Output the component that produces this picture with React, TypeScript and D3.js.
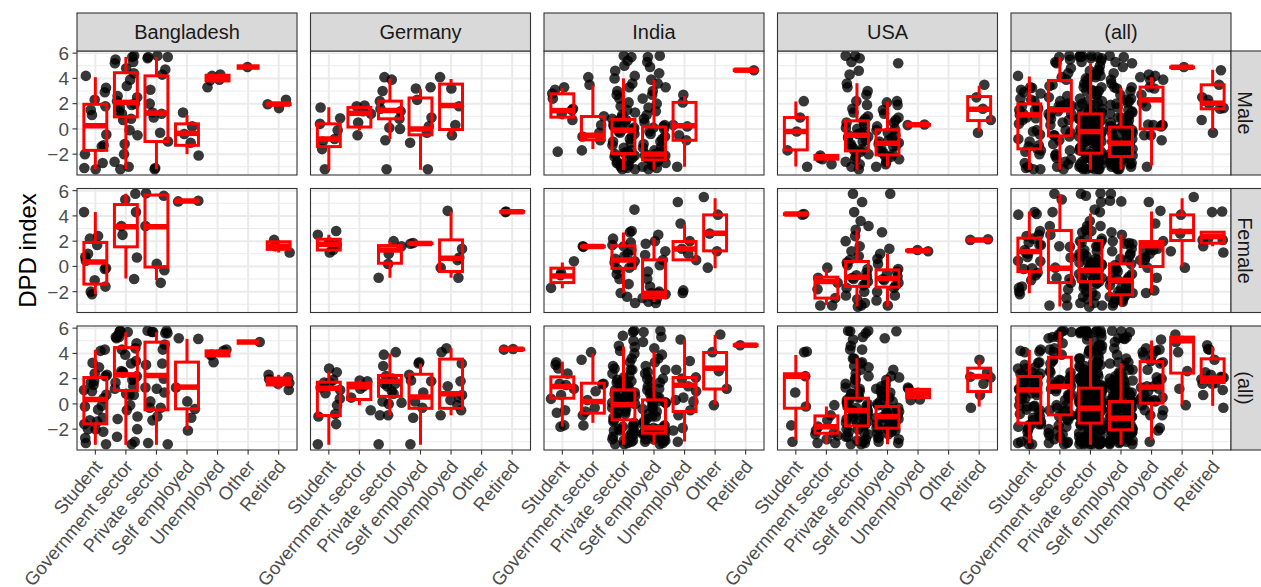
import React from 'react';
import * as d3 from 'd3';

// facet layout labels
const JOBS = ['Student', 'Government sector', 'Private sector', 'Self employed', 'Unemployed', 'Other', 'Retired'];
const COLS = ['Bangladesh', 'Germany', 'India', 'USA', '(all)'];
const ROWS = ['Male', 'Female', '(all)'];
const Y_TICKS = [-2, 0, 2, 4, 6];
const Y_MINOR = [-3, -1, 1, 3, 5];

// DPD index values per job (order of JOBS)
const bangladeshMale = [
  [4.2, 3.25, 2.9, 2.3, 1.8, 1.5, 1.1, -0.45, -1.3, -1.4, -2.0, -2.7, -3.1, -3.2],
  [5.8, 5.7, 5.5, 5.3, 5.2, 4.8, 4.4, 3.9, 3.4, 2.6, 2.5, 2.2, 2.0, 1.9, 1.7, 1.4, 1.2, 0.8, 0.7, -0.1, -0.5, -1.2, -2.0, -2.6, -3.0, -3.2],
  [5.8, 5.7, 5.7, 5.6, 4.7, 4.3, 3.1, 2.0, 1.3, 1.2, 0.9, -0.3, -1.0, -3.1, -3.2],
  [1.3, 0.2, -0.4, -1.1, -2.1],
  [4.3, 4.2, 3.9, 3.85, 3.3],
  [4.9],
  [2.3, 1.95, 1.65],
];
const bangladeshFemale = [
  [4.3, 2.4, 2.2, 1.7, 1.0, 0.75, 0.45, -0.15, -0.2, -1.1, -1.6, -2.0, -2.2],
  [5.75, 5.3, 4.3, 3.2, 2.5, 0.7, -1.0],
  [5.8, 5.6, 3.2, 0.2, -0.3, -1.3],
  [5.2, 5.15],
  [],
  [],
  [2.1, 1.6, 1.1],
];
const germanyMale = [
  [1.7, 0.85, 0.4, -0.1, -0.8, -1.0, -1.6, -3.2],
  [1.85, 1.8, 1.4, 1.2, 0.5, -0.5],
  [4.1, 3.9, 3.0, 2.2, 1.6, 1.4, 0.8, 0.1, 0.0, -0.9, -3.2],
  [3.3, 3.2, 2.3, 0.9, 0.2, -0.3, -1.1, -3.2],
  [4.1, 3.2, 1.8, 0.3, -0.5],
  [],
  [],
];
const germanyFemale = [
  [2.8, 2.5, 1.9, 1.7, 1.3, 1.1],
  [],
  [2.0, 1.6, 1.0, 0.2, -0.9],
  [1.85, 1.8],
  [4.4, 1.4, 0.7, 0.5, -0.1, -0.9],
  [],
  [4.35, 4.3],
];
const indiaMale = [
  [3.3, 3.1, 2.8, 2.4, 1.6, 1.5, 1.2, 0.7, -1.8],
  [4.1, 3.5, 1.0, 0.3, -0.3, -0.6, -0.9, -1.7],
  [5.8, 5.7, 5.4, 5.0, 4.6, 4.2, 4.0, 3.6, 3.3, 3.0, 2.7, 2.4, 2.1, 1.8, 1.5, 1.3, 1.1, 0.9, 0.8, 0.7, 0.6, 0.5, 0.4, 0.3, 0.2, 0.1, 0.0, 0.0, -0.1, -0.2, -0.3, -0.4, -0.6, -0.8, -1.0, -1.1, -1.3, -1.5, -1.7, -1.8, -1.9, -2.0, -2.1, -2.2, -2.3, -2.5, -2.6, -2.7, -2.8, -2.9, -3.0, -3.1, -3.2, -3.2],
  [5.8, 5.7, 5.3, 4.9, 4.4, 3.9, 3.6, 3.3, 3.0, 2.7, 2.4, 2.0, 1.7, 1.4, 1.1, 0.8, 0.5, 0.3, 0.2, 0.1, 0.0, -0.2, -0.4, -0.6, -0.8, -1.0, -1.2, -1.4, -1.5, -1.7, -1.8, -1.9, -2.0, -2.0, -2.1, -2.1, -2.2, -2.2, -2.3, -2.3, -2.4, -2.4, -2.5, -2.6, -2.7, -2.8, -2.9, -3.0, -3.1, -3.2],
  [2.7, 2.1, 0.3, 0.2, -0.5, -0.9, -3.0],
  [],
  [4.65],
];
const indiaFemale = [
  [0.4, -0.5, -0.7, -1.7],
  [1.6, 1.55],
  [4.5, 2.8, 2.7, 2.2, 1.9, 1.7, 1.6, 1.3, 1.0, 0.8, 0.6, 0.4, 0.3, 0.1, -0.1, -0.2, -0.6, -1.0, -1.4, -2.1, -2.4, -2.9],
  [2.5, 2.0, 1.8, 1.2, 0.9, 0.5, 0.1, -0.4, -1.0, -1.6, -2.0, -2.1, -2.1, -2.2, -2.3, -2.4, -2.5, -2.6, -2.8, -2.9],
  [5.1, 3.4, 2.0, 1.4, 1.0, 0.5, -1.9, -2.1],
  [5.5, 4.1, 2.6, 1.2, -0.1],
  [],
];
const usaMale = [
  [2.2, 0.9, -0.2, -1.7, -3.0],
  [-2.1, -2.3, -2.4, -2.8],
  [5.8, 5.8, 5.6, 5.3, 4.6, 4.3, 3.6, 3.3, 3.0, 2.7, 2.2, 1.9, 1.6, 1.3, 1.0, 0.8, 0.6, 0.5, 0.3, 0.1, 0.0, -0.2, -0.3, -0.4, -0.5, -0.6, -0.7, -0.9, -1.0, -1.2, -1.3, -1.5, -1.6, -1.7, -1.8, -2.0, -2.2, -2.4, -2.6, -2.8, -3.0, -3.2],
  [5.2, 2.2, 2.1, 1.9, 1.5, 1.2, 0.9, 0.7, 0.5, 0.2, 0.0, -0.1, -0.3, -0.5, -0.7, -0.9, -1.0, -1.1, -1.2, -1.3, -1.4, -1.6, -1.8, -1.9, -2.0, -2.1, -2.2, -2.4, -2.6, -2.8, -3.0],
  [0.35, 0.3],
  [],
  [3.5, 2.5, 1.6, 0.7, -0.3],
];
const usaFemale = [
  [4.15, 4.1],
  [-0.1, -0.9, -1.3, -1.8, -2.5, -3.1, -3.1],
  [5.75, 5.1, 4.3, 3.6, 3.2, 2.9, 2.4, 2.0, 1.6, 1.2, 0.8, 0.5, 0.3, 0.1, -0.2, -0.5, -0.7, -0.8, -0.9, -1.0, -1.2, -1.4, -1.5, -1.7, -2.0, -2.3, -2.6, -2.9, -3.1, -3.2],
  [5.75, 2.7, 1.4, 1.0, 0.6, 0.2, -0.2, -0.4, -0.6, -0.8, -1.0, -1.1, -1.3, -1.5, -1.7, -2.0, -2.3, -2.7, -3.1],
  [1.3, 1.2],
  [],
  [2.1, 2.15],
];

// boxplot stats per job: [lower whisker, q1, median, q3, upper whisker]
const boxBangladeshMale = [
  [-3.2, -1.7, 0.25, 1.95, 4.1], [-3.2, 0.95, 2.1, 4.45, 5.7], [-3.2, -1.0, 1.25, 4.2, 5.7],
  [-2.0, -1.3, -0.35, 0.4, 1.1], [3.75, 3.8, 4.0, 4.25, 4.3], [4.9, 4.9, 4.9, 4.9, 4.9], [1.95, 1.92, 1.97, 2.0, 2.0],
];
const boxBangladeshFemale = [
  [-2.2, -1.4, 0.35, 1.9, 4.3], [-0.95, 1.55, 3.15, 4.9, 5.75], [-1.1, -0.05, 3.15, 5.65, 5.75],
  [5.15, 5.15, 5.18, 5.2, 5.2], null, null, [1.1, 1.35, 1.6, 1.95, 2.1],
];
const boxBangladeshAll = [
  [-3.24, -1.58, 0.35, 2.09, 4.28], [-3.24, 1.06, 2.3, 4.46, 5.68], [-3.24, -0.47, 2.25, 4.89, 5.68],
  [-2.0, -0.39, 1.33, 3.31, 5.15], [3.75, 3.8, 4.0, 4.2, 4.3], [4.9, 4.9, 4.9, 4.9, 4.9], [1.15, 1.5, 1.8, 2.05, 2.3],
];
const boxGermanyMale = [
  [-3.24, -1.4, -0.8, 0.4, 1.72], [-0.1, 0.15, 1.25, 1.7, 1.85], [-0.8, 0.8, 1.45, 2.2, 4.0],
  [-3.24, -0.47, 0.0, 2.45, 3.15], [-0.6, -0.05, 1.85, 3.55, 3.95], null, null,
];
const boxGermanyFemale = [
  [1.1, 1.3, 1.75, 2.15, 2.5], null, [-0.9, 0.25, 1.3, 1.65, 2.0],
  [1.8, 1.8, 1.82, 1.85, 1.85], [-0.9, -0.4, 0.65, 2.1, 4.35], null, [4.3, 4.3, 4.32, 4.35, 4.35],
];
const boxGermanyAll = [
  [-3.24, -0.92, 1.25, 1.72, 2.56], [-0.1, 0.35, 1.35, 1.65, 1.85], [-0.9, 0.6, 1.8, 2.25, 4.0],
  [-3.24, -0.35, 0.55, 2.35, 3.2], [-0.9, -0.35, 0.8, 3.55, 4.4], null, [4.3, 4.3, 4.32, 4.35, 4.35],
];
const boxIndiaMale = [
  [0.75, 0.93, 1.45, 2.78, 3.23], [-1.6, -0.86, -0.5, 0.98, 3.45], [-3.24, -1.95, -0.1, 0.75, 4.0],
  [-3.24, -2.45, -2.0, 0.15, 3.9], [-3.0, -0.9, 0.25, 2.1, 2.6], null, [4.65, 4.62, 4.65, 4.68, 4.68],
];
const boxIndiaFemale = [
  [-1.72, -1.28, -0.75, -0.14, 0.3], [1.55, 1.55, 1.57, 1.6, 1.6], [-2.1, -0.15, 0.5, 1.63, 2.68],
  [-2.82, -2.47, -2.12, 0.52, 2.24], [0.5, 0.52, 1.37, 1.97, 3.29], [-0.14, 1.23, 2.63, 4.08, 5.4], null,
];
const boxIndiaAll = [
  [-1.79, 0.45, 1.38, 2.14, 3.35], [-1.5, -0.73, 0.19, 1.64, 4.0], [-3.24, -1.26, -0.05, 1.11, 4.54],
  [-3.24, -2.32, -1.9, 0.32, 4.15], [-2.98, -0.6, 1.48, 2.09, 5.07], [-0.07, 1.18, 2.83, 4.07, 5.47], [4.65, 4.62, 4.65, 4.68, 4.68],
];
const boxUsaMale = [
  [-2.98, -1.66, -0.21, 0.9, 2.17], [-2.45, -2.4, -2.25, -2.1, -2.06], [-3.24, -1.74, -0.5, 0.64, 3.62],
  [-2.98, -2.06, -1.14, -0.08, 2.17], [0.3, 0.3, 0.32, 0.35, 0.35], null, [-0.2, 0.66, 1.56, 2.56, 3.41],
];
const boxUsaFemale = [
  [4.1, 4.12, 4.15, 4.17, 4.2], [-3.05, -2.51, -1.2, -0.85, -0.2], [-3.18, -1.58, -0.85, 0.39, 2.9],
  [-3.18, -1.64, -0.95, -0.27, 1.0], [1.2, 1.22, 1.25, 1.28, 1.3], null, [2.05, 2.07, 2.1, 2.12, 2.15],
];
const boxUsaAll = [
  [-2.85, -0.34, 2.2, 2.39, 3.88], [-3.2, -2.32, -1.8, -0.95, -0.2], [-3.24, -1.74, -0.53, 0.45, 3.62],
  [-3.2, -1.92, -1.0, -0.21, 2.17], [0.3, 0.5, 0.85, 1.15, 1.3], null, [-0.2, 0.98, 2.17, 2.83, 3.49],
];
const boxAllMale = [
  [-3.24, -1.58, 1.11, 1.98, 4.15], [-3.24, -0.55, 1.51, 3.83, 5.68], [-3.24, -1.92, -0.21, 1.19, 5.2],
  [-3.24, -2.19, -1.13, 0.14, 3.23], [-2.9, 0.0, 2.3, 3.31, 4.1], [4.86, 4.86, 4.88, 4.9, 4.9], [-0.08, 1.59, 2.04, 3.49, 4.68],
];
const boxAllFemale = [
  [-2.12, -0.41, 1.18, 2.24, 4.35], [-3.18, -1.28, -0.14, 2.84, 5.72], [-3.18, -1.2, -0.3, 2.05, 4.2],
  [-3.18, -2.25, -1.1, 0.2, 2.5], [-2.12, -0.01, 1.63, 1.97, 4.35], [-0.01, 2.05, 2.76, 4.08, 5.4], [1.6, 1.84, 2.36, 2.71, 2.75],
];
const boxAllAll = [
  [-3.1, -1.52, 1.11, 2.17, 4.28], [-3.1, -0.87, 1.38, 3.7, 5.73], [-3.24, -1.52, -0.34, 1.25, 5.2],
  [-3.24, -2.05, -1.13, 0.19, 3.23], [-2.85, 0.06, 1.33, 3.35, 5.02], [-0.07, 2.44, 5.0, 5.29, 5.4], [-0.15, 1.69, 2.04, 3.57, 4.54],
];

// horizontal jitter, in category widths
const JITTER = [-0.31, 0.14, -0.06, 0.27, -0.22, 0.35, 0.03, -0.37, 0.21, -0.13, 0.31, -0.27, 0.09, -0.34, 0.17, -0.02, 0.37,
  -0.18, 0.24, -0.09, 0.33, -0.29, 0.06, -0.36, 0.12, -0.15, 0.29, -0.24, 0.01, 0.38, -0.11, 0.19, -0.33, 0.26, -0.04, 0.36, -0.2];

const BASE = [
  [bangladeshMale, germanyMale, indiaMale, usaMale],
  [bangladeshFemale, germanyFemale, indiaFemale, usaFemale],
];
const BOXES = [
  [boxBangladeshMale, boxGermanyMale, boxIndiaMale, boxUsaMale, boxAllMale],
  [boxBangladeshFemale, boxGermanyFemale, boxIndiaFemale, boxUsaFemale, boxAllFemale],
  [boxBangladeshAll, boxGermanyAll, boxIndiaAll, boxUsaAll, boxAllAll],
];

// margins: (all) row / column pool the underlying panels
function panelPoints(r: number, c: number): number[][] {
  const rs = r === 2 ? [0, 1] : [r];
  const cs = c === 4 ? [0, 1, 2, 3] : [c];
  return JOBS.map((_, j) => rs.flatMap(ri => cs.flatMap(ci => BASE[ri][ci][j])));
}

const W = 1261, H = 587;
const PW = 220, PH = 124;
const colX = d3.range(5).map(i => 77 + i * 233.5);
const rowY = d3.range(3).map(i => 51 + i * 137.5);
const FONT = '"Liberation Sans", Arial, Helvetica, sans-serif';
const RED = '#FF0000';

const fmt = (v: number) => String(v).replace('-', '\u2212');

export default function App() {
  const x = d3.scalePoint<string>().domain(JOBS).range([0, PW]).padding(0.6);
  const y = d3.scaleLinear().domain([-3.65, 6.17]).range([PH, 0]);
  const step = x.step();
  const bw = step * 0.75;

  const panels = [];
  for (let r = 0; r < 3; r++) {
    for (let c = 0; c < 5; c++) {
      const pts = panelPoints(r, c);
      const boxes = BOXES[r][c];
      const id = `clip-${r}-${c}`;
      panels.push(
        <g key={id} transform={`translate(${colX[c]},${rowY[r]})`}>
          <clipPath id={id}><rect width={PW} height={PH} /></clipPath>
          <rect width={PW} height={PH} fill="#fff" />
          {Y_MINOR.map(v => <line key={'m' + v} x1={0} x2={PW} y1={y(v)} y2={y(v)} stroke="#EBEBEB" strokeWidth={1.1} />)}
          {Y_TICKS.map(v => <line key={'M' + v} x1={0} x2={PW} y1={y(v)} y2={y(v)} stroke="#EBEBEB" strokeWidth={2} />)}
          {JOBS.map(j => <line key={'v' + j} x1={x(j)} x2={x(j)} y1={0} y2={PH} stroke="#EBEBEB" strokeWidth={2} />)}
          <g clipPath={`url(#${id})`}>
            {JOBS.map((j, ji) => pts[ji].map((v, i) => (
              <circle key={j + i} cx={(x(j) as number) + JITTER[(i * 5 + ji * 3 + r * 7 + c * 11) % JITTER.length] * step}
                cy={y(v)} r={5.3} fill="#000" fillOpacity={0.78} />
            )))}
            {JOBS.map((j, ji) => {
              const b = boxes[ji];
              if (!b) return null;
              const cx = x(j) as number;
              const [lo, q1, md, q3, hi] = b;
              return (
                <g key={'b' + j} stroke={RED} fill="none">
                  <line x1={cx} x2={cx} y1={y(q3)} y2={y(hi)} strokeWidth={3} />
                  <line x1={cx} x2={cx} y1={y(q1)} y2={y(lo)} strokeWidth={3} />
                  <rect x={cx - bw / 2} y={y(q3)} width={bw} height={Math.max(0, y(q1) - y(q3))} strokeWidth={3} />
                  <line x1={cx - bw / 2} x2={cx + bw / 2} y1={y(md)} y2={y(md)} strokeWidth={5.5} />
                </g>
              );
            })}
          </g>
          <rect width={PW} height={PH} fill="none" stroke="#333333" strokeWidth={1.1} />
        </g>
      );
    }
  }

  return (
    <svg width={W} height={H} style={{ position: 'absolute', left: 0, top: 0, background: '#fff' }} fontFamily={FONT}>
      {panels}
      {COLS.map((name, c) => (
        <g key={name} transform={`translate(${colX[c]},13)`}>
          <rect width={PW} height={38} fill="#D9D9D9" stroke="#333333" strokeWidth={1.1} />
          <text x={PW / 2} y={19} dy="0.36em" textAnchor="middle" fontSize={20} fill="#1A1A1A">{name}</text>
        </g>
      ))}
      {ROWS.map((name, r) => (
        <g key={name} transform={`translate(${colX[4] + PW},${rowY[r]})`}>
          <rect width={40} height={PH} fill="#D9D9D9" stroke="#333333" strokeWidth={1.1} />
          <text transform={`translate(14.5,${PH / 2}) rotate(90)`} dy="0.36em" textAnchor="middle" fontSize={20} fill="#1A1A1A">{name}</text>
        </g>
      ))}
      {rowY.map((ry, r) => (
        <g key={'ya' + r} transform={`translate(${colX[0]},${ry})`}>
          {Y_TICKS.map(v => (
            <g key={v}>
              <line x1={-4.5} x2={0} y1={y(v)} y2={y(v)} stroke="#333333" strokeWidth={1.1} />
              <text x={-8} y={y(v)} dy="0.36em" textAnchor="end" fontSize={19} fill="#4D4D4D">{fmt(v)}</text>
            </g>
          ))}
        </g>
      ))}
      {colX.map((cx0, c) => (
        <g key={'xa' + c} transform={`translate(${cx0},${rowY[2] + PH})`}>
          {JOBS.map(j => (
            <g key={j}>
              <line x1={x(j)} x2={x(j)} y1={0} y2={4.5} stroke="#333333" strokeWidth={1.1} />
              <text transform={`translate(${(x(j) as number) + 8},${17}) rotate(-50)`} textAnchor="end" fontSize={18.5} fill="#4D4D4D">{j}</text>
            </g>
          ))}
        </g>
      ))}
      <text transform={`translate(27,${(rowY[0] + rowY[2] + PH) / 2}) rotate(-90)`} dy="0.36em" textAnchor="middle" fontSize={24} fill="#000">DPD index</text>
    </svg>
  );
}
